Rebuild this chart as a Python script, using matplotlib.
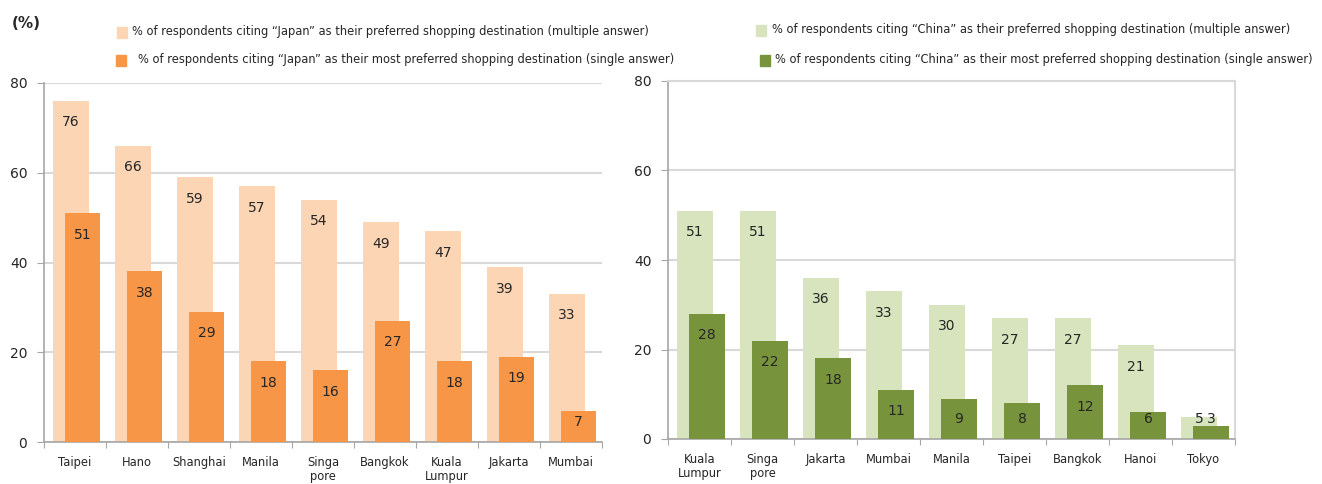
import matplotlib
matplotlib.use("Agg")
import matplotlib.pyplot as plt
from matplotlib.patches import Rectangle
import numpy as np

plt.rcParams['font.family'] = ['DejaVu Sans']

# Data
japan_cities = ["Taipei", "Hano", "Shanghai", "Manila", "Singa\npore", "Bangkok", "Kuala\nLumpur", "Jakarta", "Mumbai"]
japan_multi = [76, 66, 59, 57, 54, 49, 47, 39, 33]
japan_single = [51, 38, 29, 18, 16, 27, 18, 19, 7]

china_cities = ["Kuala\nLumpur", "Singa\npore", "Jakarta", "Mumbai", "Manila", "Taipei", "Bangkok", "Hanoi", "Tokyo"]
china_multi = [51, 51, 36, 33, 30, 27, 27, 21, 5]
china_single = [28, 22, 18, 11, 9, 8, 12, 6, 3]

yticks = [0, 20, 40, 60, 80]

JP_LIGHT, JP_DARK = "#FCD5B4", "#F79646"
CN_LIGHT, CN_DARK = "#D7E4BD", "#77933C"
GRID = "#D9D9D9"
SPINE = "#A6A6A6"
TXT = "#262626"

fig = plt.figure(figsize=(13.22, 4.84), dpi=100)
W, H = 1322, 484

def px_ax(x0, x1, y0, y1):
    return fig.add_axes([x0 / W, 1 - y1 / H, (x1 - x0) / W, (y1 - y0) / H])

def draw(ax, cats, multi, single, light, dark, boxed):
    n = len(cats)
    x = np.arange(n)
    ax.bar(x - 0.07, multi, width=0.58, color=light, zorder=2)
    ax.bar(x + 0.12, single, width=0.56, color=dark, zorder=3)
    for xi, v in zip(x, multi):
        ax.text(xi - 0.07, max(v - 4.8, 4.5), f"{v}", ha="center", va="center",
                fontsize=10, color=TXT, zorder=4)
    for xi, v in zip(x, single):
        ax.text(xi + 0.12, max(v - 4.8, 4.5), f"{v}", ha="center", va="center",
                fontsize=10, color=TXT, zorder=4)
    ax.set_xlim(-0.5, n - 0.5)
    ax.set_ylim(0, 80)
    ax.set_yticks(yticks)
    ax.yaxis.grid(True, color=GRID, lw=1.5, zorder=0)
    ax.set_axisbelow(True)
    ax.set_xticks(np.arange(n + 1) - 0.5)
    ax.set_xticklabels([])
    ax.set_xticks(x, minor=True)
    ax.set_xticklabels(cats, minor=True, fontsize=8.3, color=TXT, linespacing=1.1)
    ax.tick_params(axis="x", which="minor", length=0, pad=10)
    ax.tick_params(axis="x", which="major", length=4, color=SPINE, direction="out")
    ax.tick_params(axis="y", length=5, color=SPINE, labelsize=10, labelcolor=TXT, pad=7)
    ax.spines["left"].set_color(SPINE)
    ax.spines["bottom"].set_color(SPINE)
    ax.spines["left"].set_linewidth(1.2)
    ax.spines["bottom"].set_linewidth(1.2)
    if boxed:
        for s in ("top", "right"):
            ax.spines[s].set_color(GRID)
            ax.spines[s].set_linewidth(1.5)
    else:
        ax.spines["top"].set_visible(False)
        ax.spines["right"].set_visible(False)

ax1 = px_ax(44, 602, 83, 442)
draw(ax1, japan_cities, japan_multi, japan_single, JP_LIGHT, JP_DARK, False)
ax2 = px_ax(668, 1235, 81, 439)
draw(ax2, china_cities, china_multi, china_single, CN_LIGHT, CN_DARK, True)

fig.text(12 / W, 1 - 24 / H, "(%)", fontsize=11, fontweight="bold", color=TXT, va="center")

def legend_item(xs, ys, color, tx, text):
    fig.patches.append(Rectangle((xs / W, 1 - (ys + 6) / H), 10 / W, 11 / H,
                                 transform=fig.transFigure, color=color, figure=fig))
    fig.text(tx / W, 1 - ys / H, text, fontsize=8.3, color=TXT, va="center")

legend_item(117, 32, JP_LIGHT, 132,
            "% of respondents citing \u201cJapan\u201d as their preferred shopping destination (multiple answer)")
legend_item(116, 60, JP_DARK, 138,
            "% of respondents citing \u201cJapan\u201d as their most preferred shopping destination (single answer)")
legend_item(756, 30, CN_LIGHT, 772,
            "% of respondents citing \u201cChina\u201d as their preferred shopping destination (multiple answer)")
legend_item(760, 60, CN_DARK, 775,
            "% of respondents citing \u201cChina\u201d as their most preferred shopping destination (single answer)")

fig.savefig("out.png", dpi=100)
